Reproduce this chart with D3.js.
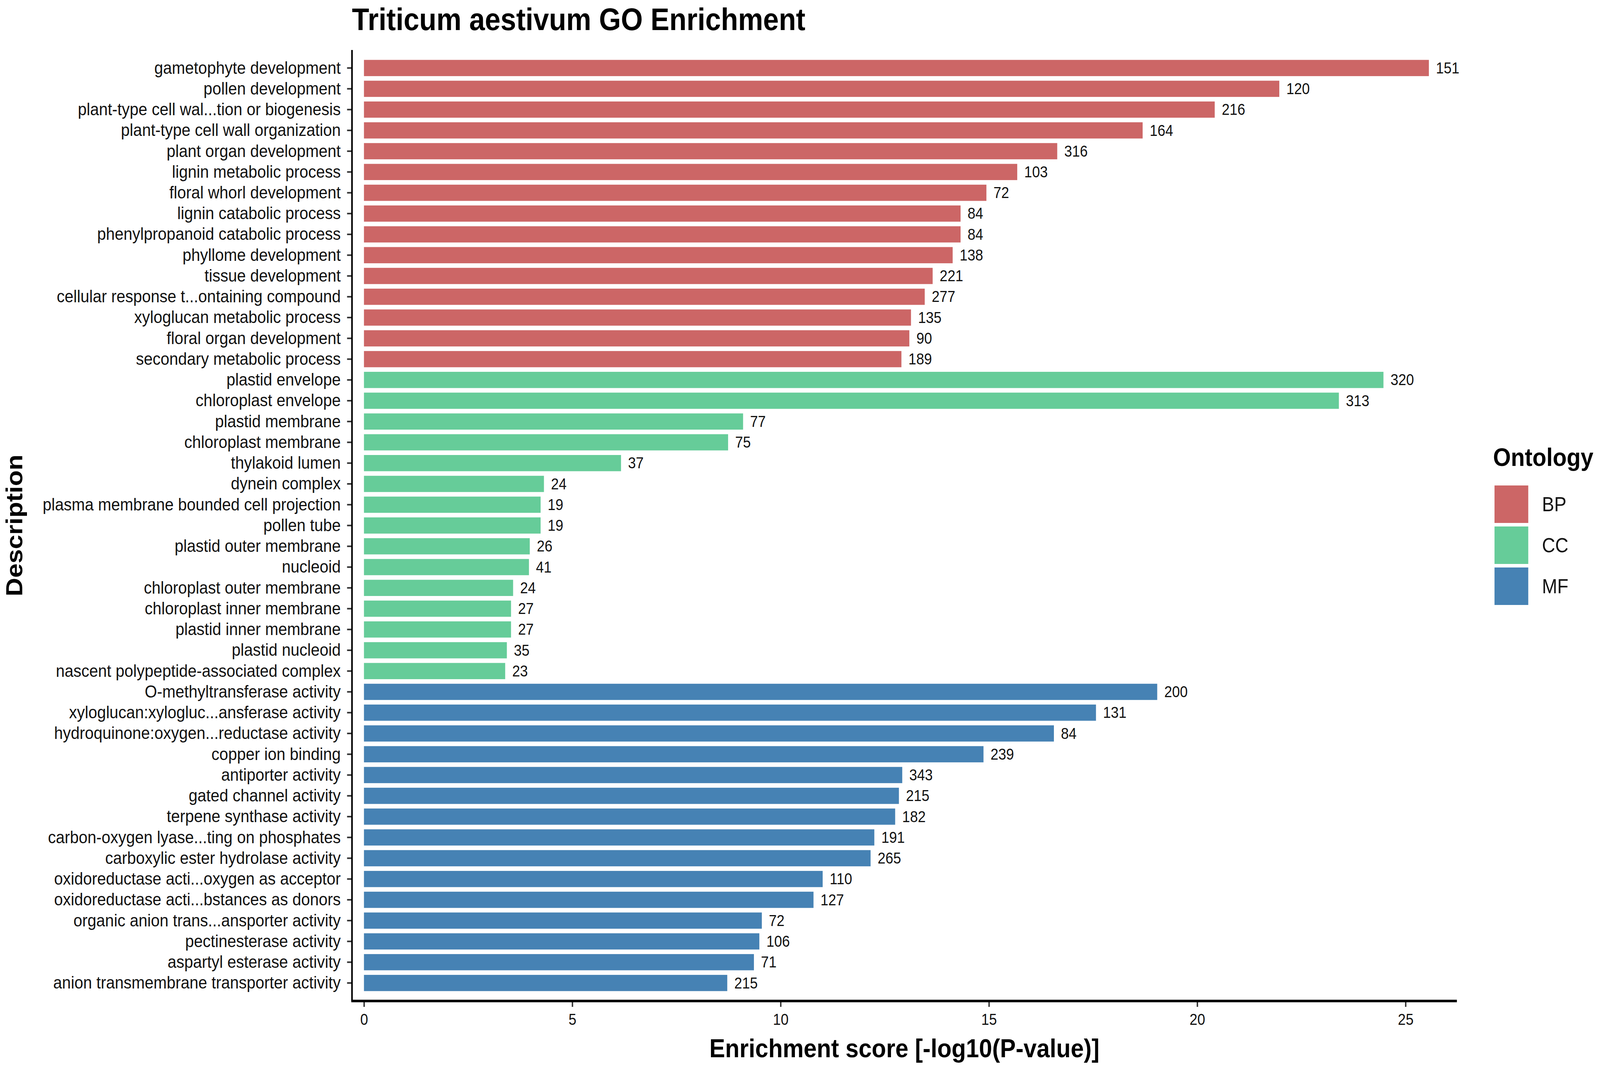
<!DOCTYPE html>
<meta charset="utf-8">

<!-- Load d3.js -->
<script src="https://d3js.org/d3.v7.min.js"></script>

<style>
    html, body { margin: 0; padding: 0; overflow: hidden; background: #fff; }
    svg { display: block; }
    text { font-family: "Liberation Sans", Arial, Helvetica, sans-serif; }
</style>

<!-- Create a div where the graph will take place -->
<div id="go_enrichment"></div>

<script>
    //  GO terms, top to bottom
    const terms = [
        "gametophyte development", "pollen development", "plant-type cell wal...tion or biogenesis",
        "plant-type cell wall organization", "plant organ development", "lignin metabolic process",
        "floral whorl development", "lignin catabolic process", "phenylpropanoid catabolic process",
        "phyllome development", "tissue development", "cellular response t...ontaining compound",
        "xyloglucan metabolic process", "floral organ development", "secondary metabolic process",
        "plastid envelope", "chloroplast envelope", "plastid membrane", "chloroplast membrane",
        "thylakoid lumen", "dynein complex", "plasma membrane bounded cell projection", "pollen tube",
        "plastid outer membrane", "nucleoid", "chloroplast outer membrane", "chloroplast inner membrane",
        "plastid inner membrane", "plastid nucleoid", "nascent polypeptide-associated complex",
        "O-methyltransferase activity", "xyloglucan:xylogluc...ansferase activity",
        "hydroquinone:oxygen...reductase activity", "copper ion binding", "antiporter activity",
        "gated channel activity", "terpene synthase activity", "carbon-oxygen lyase...ting on phosphates",
        "carboxylic ester hydrolase activity", "oxidoreductase acti...oxygen as acceptor",
        "oxidoreductase acti...bstances as donors", "organic anion trans...ansporter activity",
        "pectinesterase activity", "aspartyl esterase activity", "anion transmembrane transporter activity"
    ];

    const ontology = [
        "BP","BP","BP","BP","BP","BP","BP","BP","BP","BP","BP","BP","BP","BP","BP",
        "CC","CC","CC","CC","CC","CC","CC","CC","CC","CC","CC","CC","CC","CC","CC",
        "MF","MF","MF","MF","MF","MF","MF","MF","MF","MF","MF","MF","MF","MF","MF"
    ];

    //  -log10(P-value)
    const scores = [
        25.56, 21.97, 20.42, 18.69, 16.64, 15.68, 14.94, 14.32, 14.32, 14.13, 13.65, 13.46, 13.13, 13.09, 12.90,
        24.47, 23.40, 9.10, 8.74, 6.17, 4.32, 4.24, 4.24, 3.98, 3.96, 3.58, 3.53, 3.53, 3.43, 3.39,
        19.04, 17.57, 16.56, 14.87, 12.92, 12.84, 12.75, 12.25, 12.16, 11.01, 10.79, 9.55, 9.49, 9.36, 8.72
    ];

    //  gene counts printed next to the bars
    const counts = [
        151, 120, 216, 164, 316, 103, 72, 84, 84, 138, 221, 277, 135, 90, 189,
        320, 313, 77, 75, 37, 24, 19, 19, 26, 41, 24, 27, 27, 35, 23,
        200, 131, 84, 239, 343, 215, 182, 191, 265, 110, 127, 72, 106, 71, 215
    ];

    const ontologies = ["BP", "CC", "MF"];
    const xTicks = [0, 5, 10, 15, 20, 25];

    const data = terms.map((t, i) => ({term: t, ont: ontology[i], score: scores[i], count: counts[i]}));

    //  set the dimensions of the graph (drawn in a 4550 x 2732 box, scaled to the window)
    const width = 4550, height = 2732;
    const panel = {left: 1001, right: 4143, top: 128, bottom: 2563};

    const svg = d3.select("#go_enrichment")
      .append("svg")
        .attr("viewBox", `0 0 ${width} ${height}`)
        .attr("preserveAspectRatio", "none")
        .style("width", "100vw")
        .style("height", "100vh")
        .style("background", "#fff");

    const x = d3.scaleLinear()
        .domain([0, 25])
        .range([1035, 3997]);

    const y = d3.scaleBand()
        .domain(terms)
        .range([147.5, 2543.5])
        .paddingInner(0.22)
        .paddingOuter(0.11);

    const color = d3.scaleOrdinal()
        .domain(ontologies)
        .range(["#cc6666", "#66cc99", "#4682b4"]);

    //  bars
    svg.append("g")
      .selectAll("rect")
      .data(data)
      .join("rect")
        .attr("x", x(0))
        .attr("y", d => y(d.term))
        .attr("width", d => x(d.score) - x(0))
        .attr("height", y.bandwidth())
        .style("fill", d => color(d.ont));

    //  counts at the end of the bars
    svg.append("g")
      .selectAll("text")
      .data(data)
      .join("text")
        .attr("x", d => x(d.score) + 20)
        .attr("y", d => y(d.term) + y.bandwidth() / 2)
        .attr("dominant-baseline", "central")
        .style("font-size", "40px")
        .style("fill", "#111")
        .text(d => d.count);

    //  y axis (labels + ticks), own line for the full panel height
    const yAxis = svg.append("g")
        .attr("transform", `translate(${panel.left},0)`)
        .call(d3.axisLeft(y).tickSize(14).tickPadding(18));
    yAxis.select(".domain").remove();
    yAxis.selectAll(".tick line").attr("stroke", "#333").attr("stroke-width", 4);
    yAxis.selectAll(".tick text")
        .style("font-size", "45px")
        .style("fill", "#111")
        .attr("font-family", null);

    svg.append("line")
        .attr("x1", panel.left).attr("x2", panel.left)
        .attr("y1", panel.top).attr("y2", panel.bottom)
        .attr("stroke", "#000").attr("stroke-width", 4.5);

    //  x axis
    const xAxis = svg.append("g")
        .attr("transform", `translate(0,${panel.bottom})`)
        .call(d3.axisBottom(x).tickValues(xTicks).tickSize(15).tickPadding(18));
    xAxis.select(".domain").remove();
    xAxis.selectAll(".tick line").attr("stroke", "#333").attr("stroke-width", 4);
    xAxis.selectAll(".tick text")
        .style("font-size", "40px")
        .style("fill", "#111")
        .attr("font-family", null);

    svg.append("line")
        .attr("x1", panel.left - 2).attr("x2", panel.right)
        .attr("y1", panel.bottom).attr("y2", panel.bottom)
        .attr("stroke", "#000").attr("stroke-width", 6.5);

    //  titles
    svg.append("text")
        .attr("x", panel.left)
        .attr("y", 77)
        .style("font-size", "80px")
        .style("font-weight", "bold")
        .text("Triticum aestivum GO Enrichment");

    svg.append("text")
        .attr("x", (panel.left + panel.right) / 2)
        .attr("y", 2707)
        .attr("text-anchor", "middle")
        .style("font-size", "67px")
        .style("font-weight", "bold")
        .text("Enrichment score [-log10(P-value)]");

    svg.append("text")
        .attr("transform", `translate(63,${(panel.top + panel.bottom) / 2}) rotate(-90)`)
        .attr("text-anchor", "middle")
        .style("font-size", "66px")
        .style("font-weight", "bold")
        .text("Description");

    //  legend
    const legend = svg.append("g").attr("transform", "translate(4250,1243)");
    legend.append("text")
        .attr("x", -4)
        .attr("y", -50)
        .style("font-size", "65px")
        .style("font-weight", "bold")
        .text("Ontology");

    const key = legend.selectAll("g")
        .data(ontologies)
        .join("g")
        .attr("transform", (d, i) => `translate(0,${i * 105})`);
    key.append("rect")
        .attr("width", 96)
        .attr("height", 96)
        .style("fill", d => color(d));
    key.append("text")
        .attr("x", 135)
        .attr("y", 48)
        .attr("dominant-baseline", "central")
        .style("font-size", "52px")
        .style("fill", "#111")
        .text(d => d);
</script>
